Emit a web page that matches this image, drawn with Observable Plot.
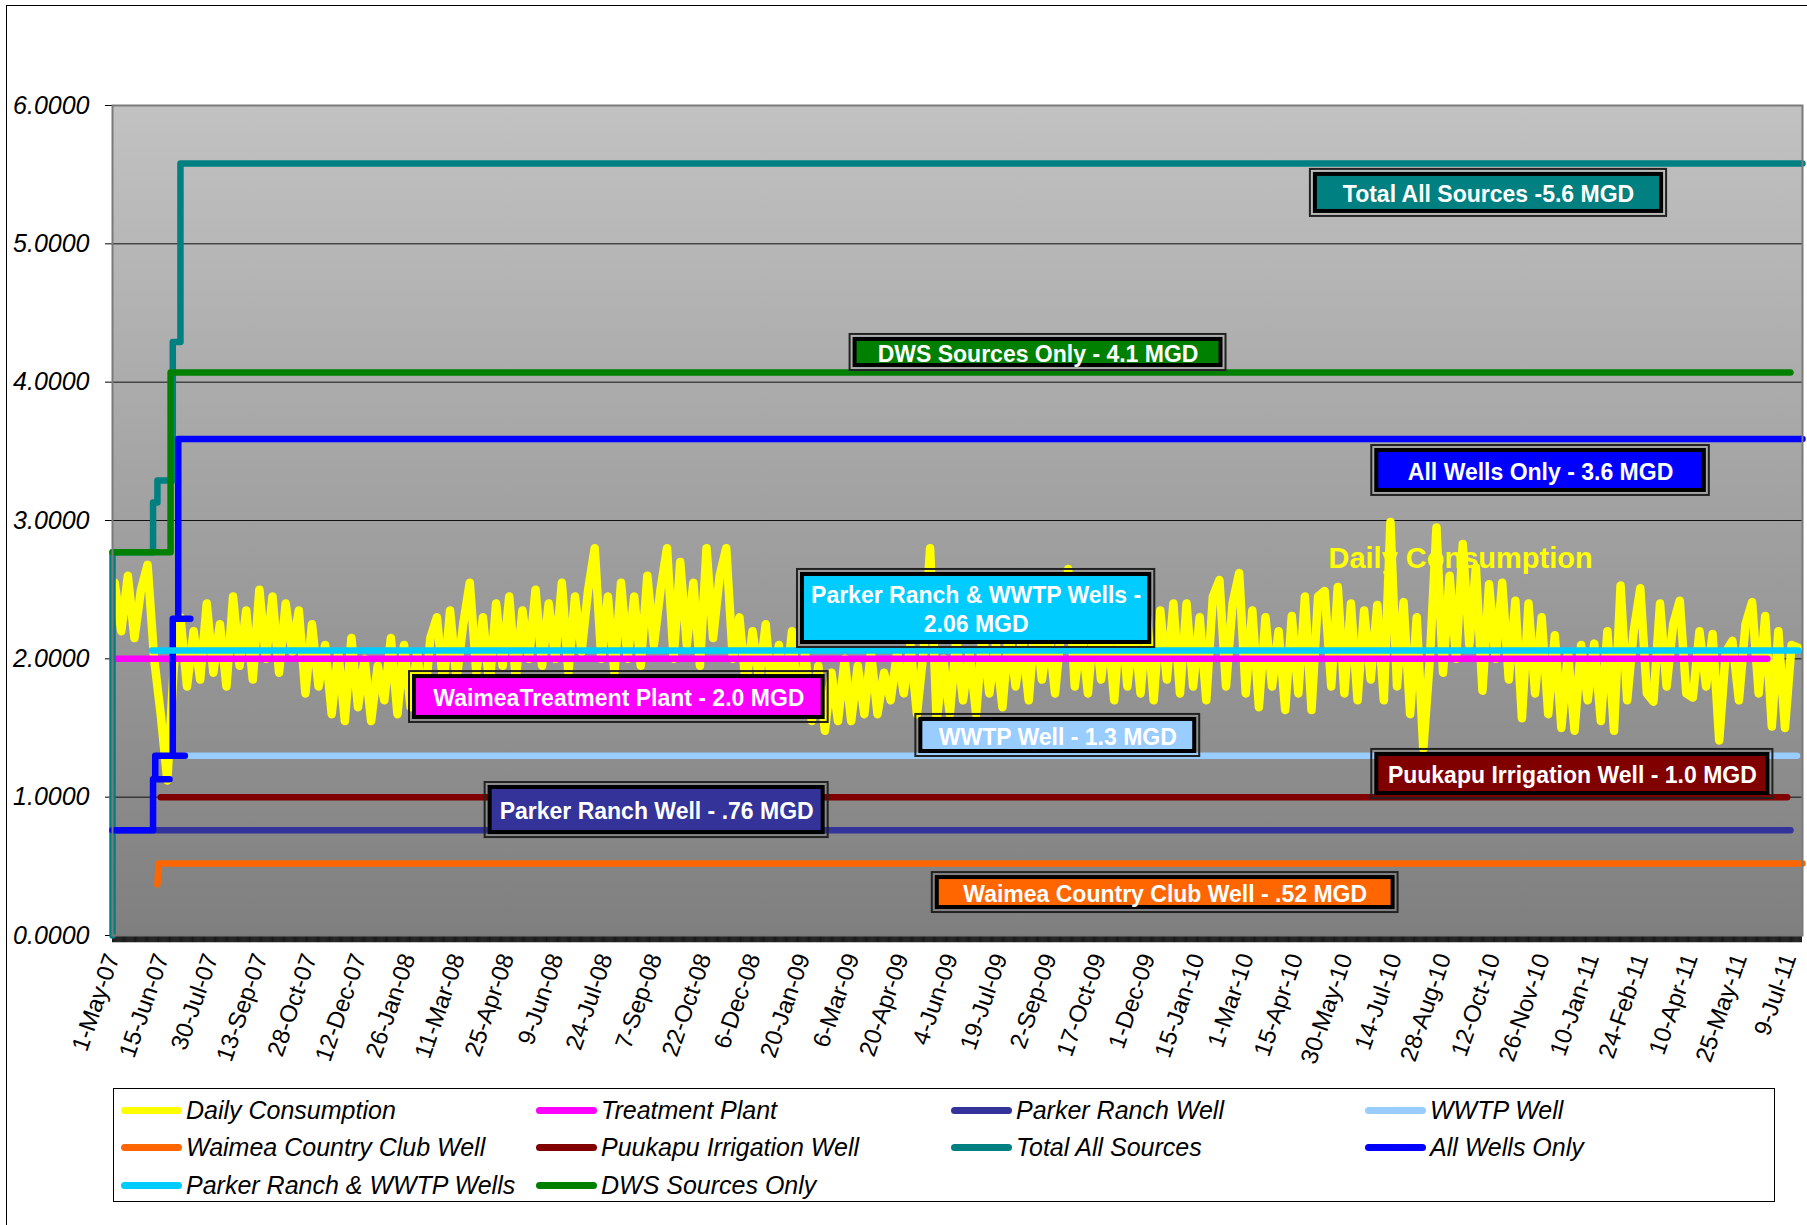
<!DOCTYPE html>
<html><head><meta charset="utf-8">
<script src="https://cdn.jsdelivr.net/npm/d3@7"></script>
<script src="https://cdn.jsdelivr.net/npm/@observablehq/plot@0.6"></script>
<style>
html,body{margin:0;padding:0;background:#fff;overflow:hidden;}
#wrap{position:relative;width:1807px;height:1225px;overflow:hidden;font-family:"Liberation Sans",Arial,sans-serif;background:#fff;}
#frame{position:absolute;left:6px;top:5px;width:1900px;height:1300px;border:1.5px solid #000;}
#chart{position:absolute;left:0;top:0;}
#legend{position:absolute;left:113px;top:1088px;width:1660px;height:112px;border:1.5px solid #000;background:#fff;}
.li{position:absolute;display:flex;align-items:center;height:30px;font-style:italic;font-size:25px;white-space:nowrap;color:#000;}
.sw{width:61px;height:7px;border-radius:4px;margin-right:4px;}
#chart svg [aria-label^="y-axis"] text{font-style:italic;font-size:25px;}
</style></head>
<body><div id="wrap"><div id="frame"></div><div id="chart"></div><div id="legend"></div></div>
<script>
// ---------------- data ----------------
const seriesNames = ["Daily Consumption","Treatment Plant","Parker Ranch Well","WWTP Well",
  "Waimea Country Club Well","Puukapu Irrigation Well","Total All Sources","All Wells Only",
  "Parker Ranch & WWTP Wells","DWS Sources Only"];

const dailyStart = "2007-05-03";
const dailyStepDays = 6;
const dailyConsumption = [
  2.55,2.2,2.6,2.15,2.5,2.68,2.0,1.6,1.12,1.95,
  2.3,1.8,2.2,1.85,2.4,1.9,2.25,1.8,2.45,1.95,
  2.35,1.85,2.5,2.0,2.45,1.9,2.4,2.05,2.35,1.75,
  2.25,1.8,2.1,1.6,2.05,1.55,2.15,1.65,2.0,1.55,
  1.95,1.7,2.15,1.6,2.1,1.65,2.05,1.6,2.15,2.3,
  1.8,2.35,1.85,2.25,2.55,1.9,2.3,1.8,2.4,1.95,
  2.45,1.85,2.35,2.0,2.5,1.95,2.4,2.0,2.55,1.9,
  2.45,2.05,2.5,2.8,2.0,2.45,1.9,2.55,2.0,2.45,
  1.95,2.6,2.1,2.5,2.8,2.0,2.7,2.1,2.55,1.95,
  2.8,2.15,2.6,2.8,2.0,2.3,1.8,2.2,1.85,2.25,
  1.7,2.1,1.75,2.2,1.6,2.05,1.55,1.95,1.48,1.9,
  1.55,2.0,1.55,1.95,1.6,2.05,1.6,1.9,1.7,2.05,
  1.75,2.1,1.6,2.05,2.8,1.55,2.0,1.6,2.15,1.7,
  2.05,1.6,2.2,1.75,2.1,1.65,2.2,1.8,2.15,1.7,
  2.3,1.85,2.2,1.75,2.25,2.65,1.8,2.2,1.75,2.3,
  1.85,2.25,1.7,2.35,1.8,2.25,1.75,2.3,1.7,2.35,
  1.85,2.4,1.75,2.4,1.8,2.3,1.7,2.45,2.57,1.8,
  2.4,2.62,1.75,2.35,1.65,2.3,1.8,2.2,1.63,2.31,
  1.75,2.45,1.63,2.45,2.49,1.8,2.52,1.75,2.4,1.7,
  2.35,1.85,2.39,1.7,2.99,1.8,2.41,1.6,2.3,1.35,
  2.0,2.95,1.9,2.6,2.0,2.83,2.1,2.66,1.77,2.54,
  2.0,2.55,1.85,2.42,1.57,2.4,1.75,2.3,1.6,2.17,
  1.5,2.05,1.48,2.1,1.7,2.11,1.55,2.2,1.48,2.53,
  1.7,2.2,2.51,1.75,1.69,2.4,1.8,2.25,2.42,1.75,
  1.72,2.2,1.8,2.18,1.41,2.05,2.13,1.7,2.25,2.41,
  1.75,2.31,1.51,2.2,1.5,2.1,2.08
];

const treatmentPlant   = [["2007-05-05",2.0],["2011-06-19",2.0]];
const parkerRanchWell  = [["2007-05-01",0.76],["2011-07-10",0.76]];
const wwtpWell         = [["2007-07-05",1.3],["2011-07-16",1.3]];
const waimeaCCWell     = [["2007-06-11",0.37],["2007-06-12",0.52],["2011-07-21",0.52]];
const puukapuWell      = [["2007-06-14",1.0],["2011-07-07",1.0]];
const totalAllSources  = [["2007-05-01",0],["2007-05-01",2.77],["2007-06-07",2.77],["2007-06-07",3.13],
  ["2007-06-11",3.13],["2007-06-11",3.29],["2007-06-25",3.29],["2007-06-25",4.29],["2007-07-02",4.29],
  ["2007-07-02",5.58],["2011-07-21",5.58]];
const allWellsOnly     = [["2007-05-01",0.76],["2007-06-07",0.76],["2007-06-07",1.13],["2007-06-22",1.13],
  ["2007-06-09",1.13],["2007-06-09",1.30],["2007-07-06",1.30],["2007-06-25",1.30],["2007-06-25",2.29],
  ["2007-07-11",2.29],["2007-06-30",2.29],["2007-06-30",3.59],["2011-07-21",3.59]];
const parkerWwtpWells  = [["2007-06-06",2.06],["2011-07-17",2.06]];
const dwsSourcesOnly   = [["2007-05-01",2.77],["2007-06-23",2.77],["2007-06-23",4.07],["2011-07-10",4.07]];

const yTicks = [0,1,2,3,4,5,6];
const xTickLabels = ["1-May-07","15-Jun-07","30-Jul-07","13-Sep-07","28-Oct-07","12-Dec-07","26-Jan-08",
  "11-Mar-08","25-Apr-08","9-Jun-08","24-Jul-08","7-Sep-08","22-Oct-08","6-Dec-08","20-Jan-09","6-Mar-09",
  "20-Apr-09","4-Jun-09","19-Jul-09","2-Sep-09","17-Oct-09","1-Dec-09","15-Jan-10","1-Mar-10","15-Apr-10",
  "30-May-10","14-Jul-10","28-Aug-10","12-Oct-10","26-Nov-10","10-Jan-11","24-Feb-11","10-Apr-11",
  "25-May-11","9-Jul-11"];
const xDomain = ["2007-05-01","2011-07-21"];

const annotationTexts = ["Total All Sources -5.6 MGD","DWS Sources Only - 4.1 MGD","All Wells Only - 3.6 MGD",
  "Parker Ranch & WWTP Wells -\n2.06 MGD","WaimeaTreatment Plant - 2.0 MGD","WWTP Well - 1.3 MGD",
  "Puukapu Irrigation Well - 1.0 MGD","Parker Ranch Well - .76 MGD","Waimea Country Club Well - .52 MGD"];
const dailyLabelText = "Daily Consumption";

// ---------------- layout / style ----------------
const seriesColors = ["#ffff00","#ff00ff","#333399","#99ccff","#ff6600","#800000","#008080","#0000ff","#00ccff","#008000"];
const annotationBoxes = [
  ["2010-04-28","2011-03-19",5.198,5.538],
  ["2009-03-04","2010-02-10",4.084,4.345],
  ["2010-06-23","2011-04-27",3.181,3.542],
  ["2009-01-15","2009-12-07",2.082,2.646],
  ["2008-01-27","2009-02-12",1.540,1.908],
  ["2009-05-03","2010-01-17",1.294,1.598],
  ["2010-06-23","2011-06-24",0.990,1.345],
  ["2008-04-05","2009-02-12",0.708,1.106],
  ["2009-05-18","2010-07-17",0.166,0.455]];
const annotationFills = ["#008080","#008000","#0000ff","#00ccff","#ff00ff","#99ccff","#800000","#333399","#ff6600"];
const dailyLabelPos = ["2010-09-12", 2.725];

// ---------------- build ----------------
const D = s => new Date(s);
const start = D(dailyStart);
const daily = dailyConsumption.map((v, i) => ({date: d3.utcDay.offset(start, i * dailyStepDays), v}));
const pts = arr => arr.map(([d, v]) => ({date: D(d), v}));
const stepSeries = [treatmentPlant, parkerRanchWell, wwtpWell, waimeaCCWell, puukapuWell,
  totalAllSources, allWellsOnly, parkerWwtpWells, dwsSourcesOnly];

const parseTick = d3.utcParse("%d-%b-%y");
const xTicks = xTickLabels.map(parseTick);
const tickFmt = d3.utcFormat("%-d-%b-%y");

const days = d3.utcDay.range(D(xDomain[0]), D(xDomain[1]));

const boxes = annotationBoxes.map(([a, b, y1, y2], i) => ({
  x1: D(a), x2: D(b), y1, y2, fill: annotationFills[i], text: annotationTexts[i],
  xm: new Date((D(a).getTime() + D(b).getTime()) / 2), ym: (y1 + y2) / 2
}));

const lineOpts = (color, w) => ({x: "date", y: "v", stroke: color, strokeWidth: w,
  strokeLinecap: "round", strokeLinejoin: "round"});

const marks = [
  Plot.frame({fill: "url(#plotbg)"}),
  Plot.ruleY([1,2,3,4,5], {stroke: "#111", strokeWidth: 1}),
  Plot.rectY([0], {x1: D(xDomain[0]), x2: D(xDomain[1]), y1: 0, y2: -0.052, fill: "#555"}),
  Plot.ruleX(days, {x: d => d, y1: 0, y2: -0.052, stroke: "#000", strokeWidth: 0.7}),
  Plot.text([dailyLabelPos], {x: d => D(d[0]), y: d => d[1], text: () => dailyLabelText,
    fill: "#ffff00", fontSize: 29, fontWeight: "bold"}),
  Plot.line(daily, lineOpts(seriesColors[0], 8.5)),
  ...stepSeries.map((s, i) => Plot.line(pts(s), lineOpts(seriesColors[i + 1], 6.5))),
  Plot.frame({stroke: "#7a7a7a", strokeWidth: 2}),
  Plot.rect(boxes, {x1: "x1", x2: "x2", y1: "y1", y2: "y2", fill: "none", stroke: "#222", strokeWidth: 2}),
  Plot.rect(boxes, {x1: "x1", x2: "x2", y1: "y1", y2: "y2", fill: "#000", inset: 3}),
  Plot.rect(boxes, {x1: "x1", x2: "x2", y1: "y1", y2: "y2", fill: "fill", inset: 7}),
  Plot.text(boxes, {x: "xm", y: "ym", text: "text", fill: "#fff", fontSize: 23, fontWeight: "bold",
    lineHeight: 1.27})
];

const svg = Plot.plot({
  width: 1807, height: 1080,
  marginLeft: 112, marginRight: 5, marginTop: 105, marginBottom: 145,
  style: {fontSize: "24px", fontFamily: "'Liberation Sans', Arial, sans-serif", background: "transparent", color: "#000"},
  x: {type: "utc", domain: xDomain.map(D), ticks: xTicks, tickFormat: tickFmt, tickRotate: -71,
      tickSize: 0, tickPadding: 19, label: null},
  y: {domain: [0, 6], ticks: yTicks, tickFormat: d => d.toFixed(4), tickSize: 7, tickPadding: 16, label: null},
  color: {type: "identity"},
  marks
});

const ns = "http://www.w3.org/2000/svg";
const defs = document.createElementNS(ns, "defs");
defs.innerHTML = '<linearGradient id="plotbg" x1="0" y1="0" x2="0" y2="1">' +
  '<stop offset="0" stop-color="#c2c2c2"/><stop offset="1" stop-color="#7f7f7f"/></linearGradient>';
svg.insertBefore(defs, svg.firstChild);
document.getElementById("chart").appendChild(svg);

// ---------------- legend ----------------
const legendCols = [7, 422, 837, 1251];
const legendRows = [6, 43, 81];
const legend = document.getElementById("legend");
seriesNames.forEach((name, i) => {
  const el = document.createElement("div");
  el.className = "li";
  el.style.left = legendCols[i % 4] + "px";
  el.style.top = legendRows[Math.floor(i / 4)] + "px";
  const sw = document.createElement("div");
  sw.className = "sw";
  sw.style.background = seriesColors[i];
  const t = document.createElement("span");
  t.textContent = name;
  el.appendChild(sw); el.appendChild(t);
  legend.appendChild(el);
});
</script></body></html>
